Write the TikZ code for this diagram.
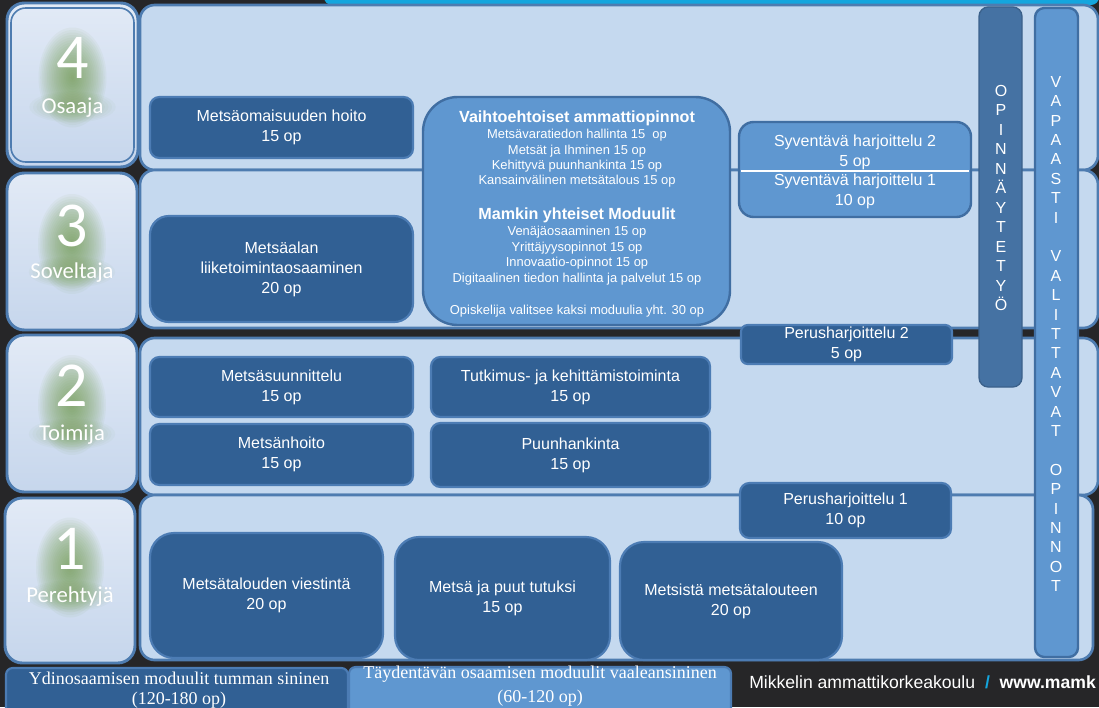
\documentclass[tikz,border=0pt]{standalone}
\usepackage{fontspec}
\setmainfont{Liberation Sans}
\newfontfamily\calib{Carlito}
\newfontfamily\timesf{Liberation Serif}
\definecolor{bg}{RGB}{38,38,40}
\definecolor{panel}{RGB}{197,217,239}
\definecolor{panelline}{RGB}{78,124,176}
\definecolor{darkmod}{RGB}{49,96,148}
\definecolor{darkline}{RGB}{76,124,180}
\definecolor{medmod}{RGB}{95,151,208}
\definecolor{medline}{RGB}{64,110,162}
\definecolor{opcol}{RGB}{69,114,163}
\definecolor{cyanbar}{RGB}{20,166,222}
\definecolor{lvtop}{RGB}{226,234,246}
\definecolor{lvbot}{RGB}{198,214,236}
\definecolor{glowc}{RGB}{105,150,62}
\newcommand\modbox[7]{%
  \path[#1] (#3,#4) rectangle (#5,#6);
  \node[boxtext] (#2) at ({(#3+#5)/2},{(#4+#6)/2}) {#7};}
\newcommand\levelbox[9]{%
  \path[lvst] (#2,#3) rectangle (#4,#5);
  \foreach \r in {1,...,20}
    \fill[glowc, opacity=0.05] ({(#2+#4)/2},{(#8+#9)/2-8}) ellipse ({1.7*\r} and {2.5*\r});
  \foreach \r in {1,...,12}
    \fill[glowc, opacity=0.04] ({(#2+#4)/2},{#9-6}) ellipse ({3.6*\r} and {1.3*\r});
  \node[digit] (#1d) at ({(#2+#4)/2},#8) {#6};
  \node[lvlabel] (#1l) at ({(#2+#4)/2},#9) {#7};}
\begin{document}
\begin{tikzpicture}[x=0.75pt,y=-0.75pt,
  panelst/.style={fill=panel,draw=panelline,line width=2pt,rounded corners=11pt},
  lvst/.style={top color=lvtop,bottom color=lvbot,draw=panelline,line width=2.2pt,rounded corners=13pt},
  darkst/.style={fill=darkmod,draw=darkline,line width=1.6pt,rounded corners=7pt},
  medst/.style={fill=medmod,draw=medline,line width=1.8pt,rounded corners=10pt},
  boxtext/.style={text=white,align=center,inner sep=0pt,font=\fontsize{12}{15}\selectfont},
  smalltext/.style={text=white,inner sep=0pt,font=\fontsize{9.7}{11}\selectfont},
  smallhead/.style={text=white,inner sep=0pt,font=\bfseries\fontsize{12.1}{14}\selectfont},
  digit/.style={text=white,inner sep=0pt,font=\calib\fontsize{48}{48}\selectfont},
  lvlabel/.style={text=white,inner sep=0pt,anchor=base,font=\calib\fontsize{17}{17}\selectfont},
  coltext/.style={text=white,align=center,inner sep=0pt},
  foottext/.style={text=white,inner sep=0pt,anchor=base,font=\timesf\fontsize{13.5}{15}\selectfont},
]
\useasboundingbox (0,0) rectangle (1099,707);
\fill[bg] (0,0) rectangle (1099,707);
% top cyan bar
\fill[cyanbar, rounded corners=6pt] (324,-12) rectangle (1099,5);
% row panels
\path[panelst] (140,5) rectangle (1098,170);
\path[panelst] (140,170) rectangle (1098,328);
\path[panelst] (140,338) rectangle (1098,495);
\path[panelst] (140,495) rectangle (1093,660);
% level boxes
\levelbox{lv4}{7}{3}{138}{167}{4}{Osaaja}{58}{113}
\draw[panelline, line width=1.2pt, rounded corners=11pt] (11,8) rectangle (134,162);
\levelbox{lv3}{7}{173}{137}{330}{3}{Soveltaja}{226}{278}
\levelbox{lv2}{7}{335}{137}{492}{2}{Toimija}{386}{440}
\levelbox{lv1}{5}{498}{135}{663}{1}{Perehtyjä}{549}{602}
% dark modules
\modbox{darkst}{m41}{150}{97}{413}{158}{Metsäomaisuuden hoito\\15 op}
\modbox{darkst, rounded corners=14pt}{m31}{150}{216}{413}{322}{Metsäalan\\liiketoimintaosaaminen\\20 op}
\modbox{darkst}{m21}{150}{357}{413}{417}{Metsäsuunnittelu\\15 op}
\modbox{darkst}{m22}{150}{424}{413}{485}{Metsänhoito\\15 op}
\modbox{darkst}{m23}{431}{357}{710}{417}{Tutkimus- ja kehittämistoiminta\\15 op}
\modbox{darkst}{m24}{431}{423}{710}{487}{Puunhankinta\\15 op}
\modbox{darkst, rounded corners=18pt}{m11}{150}{533}{383}{658}{Metsätalouden viestintä\\20 op}
\modbox{darkst, rounded corners=18pt}{m12}{395}{537}{610}{660}{Metsä ja puut tutuksi\\15 op}
\modbox{darkst, rounded corners=18pt}{m13}{620}{542}{842}{660}{Metsistä metsätalouteen\\20 op}
\modbox{darkst}{ph1}{740}{483}{951}{538}{Perusharjoittelu 1\\10 op}
\modbox{darkst, rounded corners=5pt}{ph2}{741}{325}{952}{364}{Perusharjoittelu 2\\5 op}
% elective block
\path[medst, rounded corners=26pt] (423,97) rectangle (730,325);
\node[smallhead] (vt0) at (577,118) {Vaihtoehtoiset ammattiopinnot};
\node[smalltext] (vt1) at (577,135) {Metsävaratiedon hallinta 15\ \ op};
\node[smalltext] (vt2) at (577,151) {Metsät ja Ihminen 15 op};
\node[smalltext] (vt3) at (577,166) {Kehittyvä puunhankinta 15 op};
\node[smalltext] (vt4) at (577,181) {Kansainvälinen metsätalous 15 op};
\node[smallhead] (mt0) at (577,215) {Mamkin yhteiset Moduulit};
\node[smalltext] (mt1) at (577,232) {Venäjäosaaminen 15 op};
\node[smalltext] (mt2) at (577,248) {Yrittäjyysopinnot 15 op};
\node[smalltext] (mt3) at (577,263) {Innovaatio-opinnot 15 op};
\node[smalltext] (mt4) at (577,279) {Digitaalinen tiedon hallinta ja palvelut 15 op};
\node[smalltext] (mt5) at (577,311) {Opiskelija valitsee kaksi moduulia yht. 30 op};
% syventava
\path[medst, rounded corners=11pt] (739,122) rectangle (971,217);
\draw[white, line width=0.9pt] (741,171) -- (969,171);
\node[boxtext] (sy2) at (855,152) {Syventävä harjoittelu 2\\5 op};
\node[boxtext] (sy1) at (855,191) {Syventävä harjoittelu 1\\10 op};
% columns
\path[fill=opcol, draw=opcol!85!black, line width=1pt, rounded corners=7pt] (979,7) rectangle (1022,387);
\node[coltext, font=\fontsize{12}{14.6}\selectfont] (opt) at (1001,198)
  {O\\P\\I\\N\\N\\Ä\\Y\\T\\E\\T\\Y\\Ö};
\path[fill=medmod, draw=medline, line width=1.8pt, rounded corners=7pt] (1035,8) rectangle (1078,657);
\node[coltext, font=\fontsize{12}{14.55}\selectfont] (vvo) at (1056,334)
  {V\\A\\P\\A\\A\\S\\T\\I\\\strut\\V\\A\\L\\I\\T\\T\\A\\V\\A\\T\\\strut\\O\\P\\I\\N\\N\\O\\T};
% footer
\path[fill=darkmod, draw=darkline, line width=1.6pt, rounded corners=5pt] (6,668) rectangle (348,714);
\path[fill=medmod, draw=darkline, line width=1.6pt, rounded corners=5pt] (349,667) rectangle (731,714);
\node[foottext] (f1a) at (179,684) {Ydinosaamisen moduulit tumman sininen};
\node[foottext] (f1b) at (179,704) {(120-180 op)};
\node[foottext] (f2a) at (540,678) {Täydentävän osaamisen moduulit vaaleansininen};
\node[foottext] (f2b) at (540,702) {(60-120 op)};
\node[text=white, inner sep=0pt, anchor=base west, font=\fontsize{13.2}{15}\selectfont] (mamk) at (749,688)
  {Mikkelin ammattikorkeakoulu \ {\color{cyanbar}\bfseries /}\ \ \textbf{www.mamk}};
\end{tikzpicture}
\end{document}
